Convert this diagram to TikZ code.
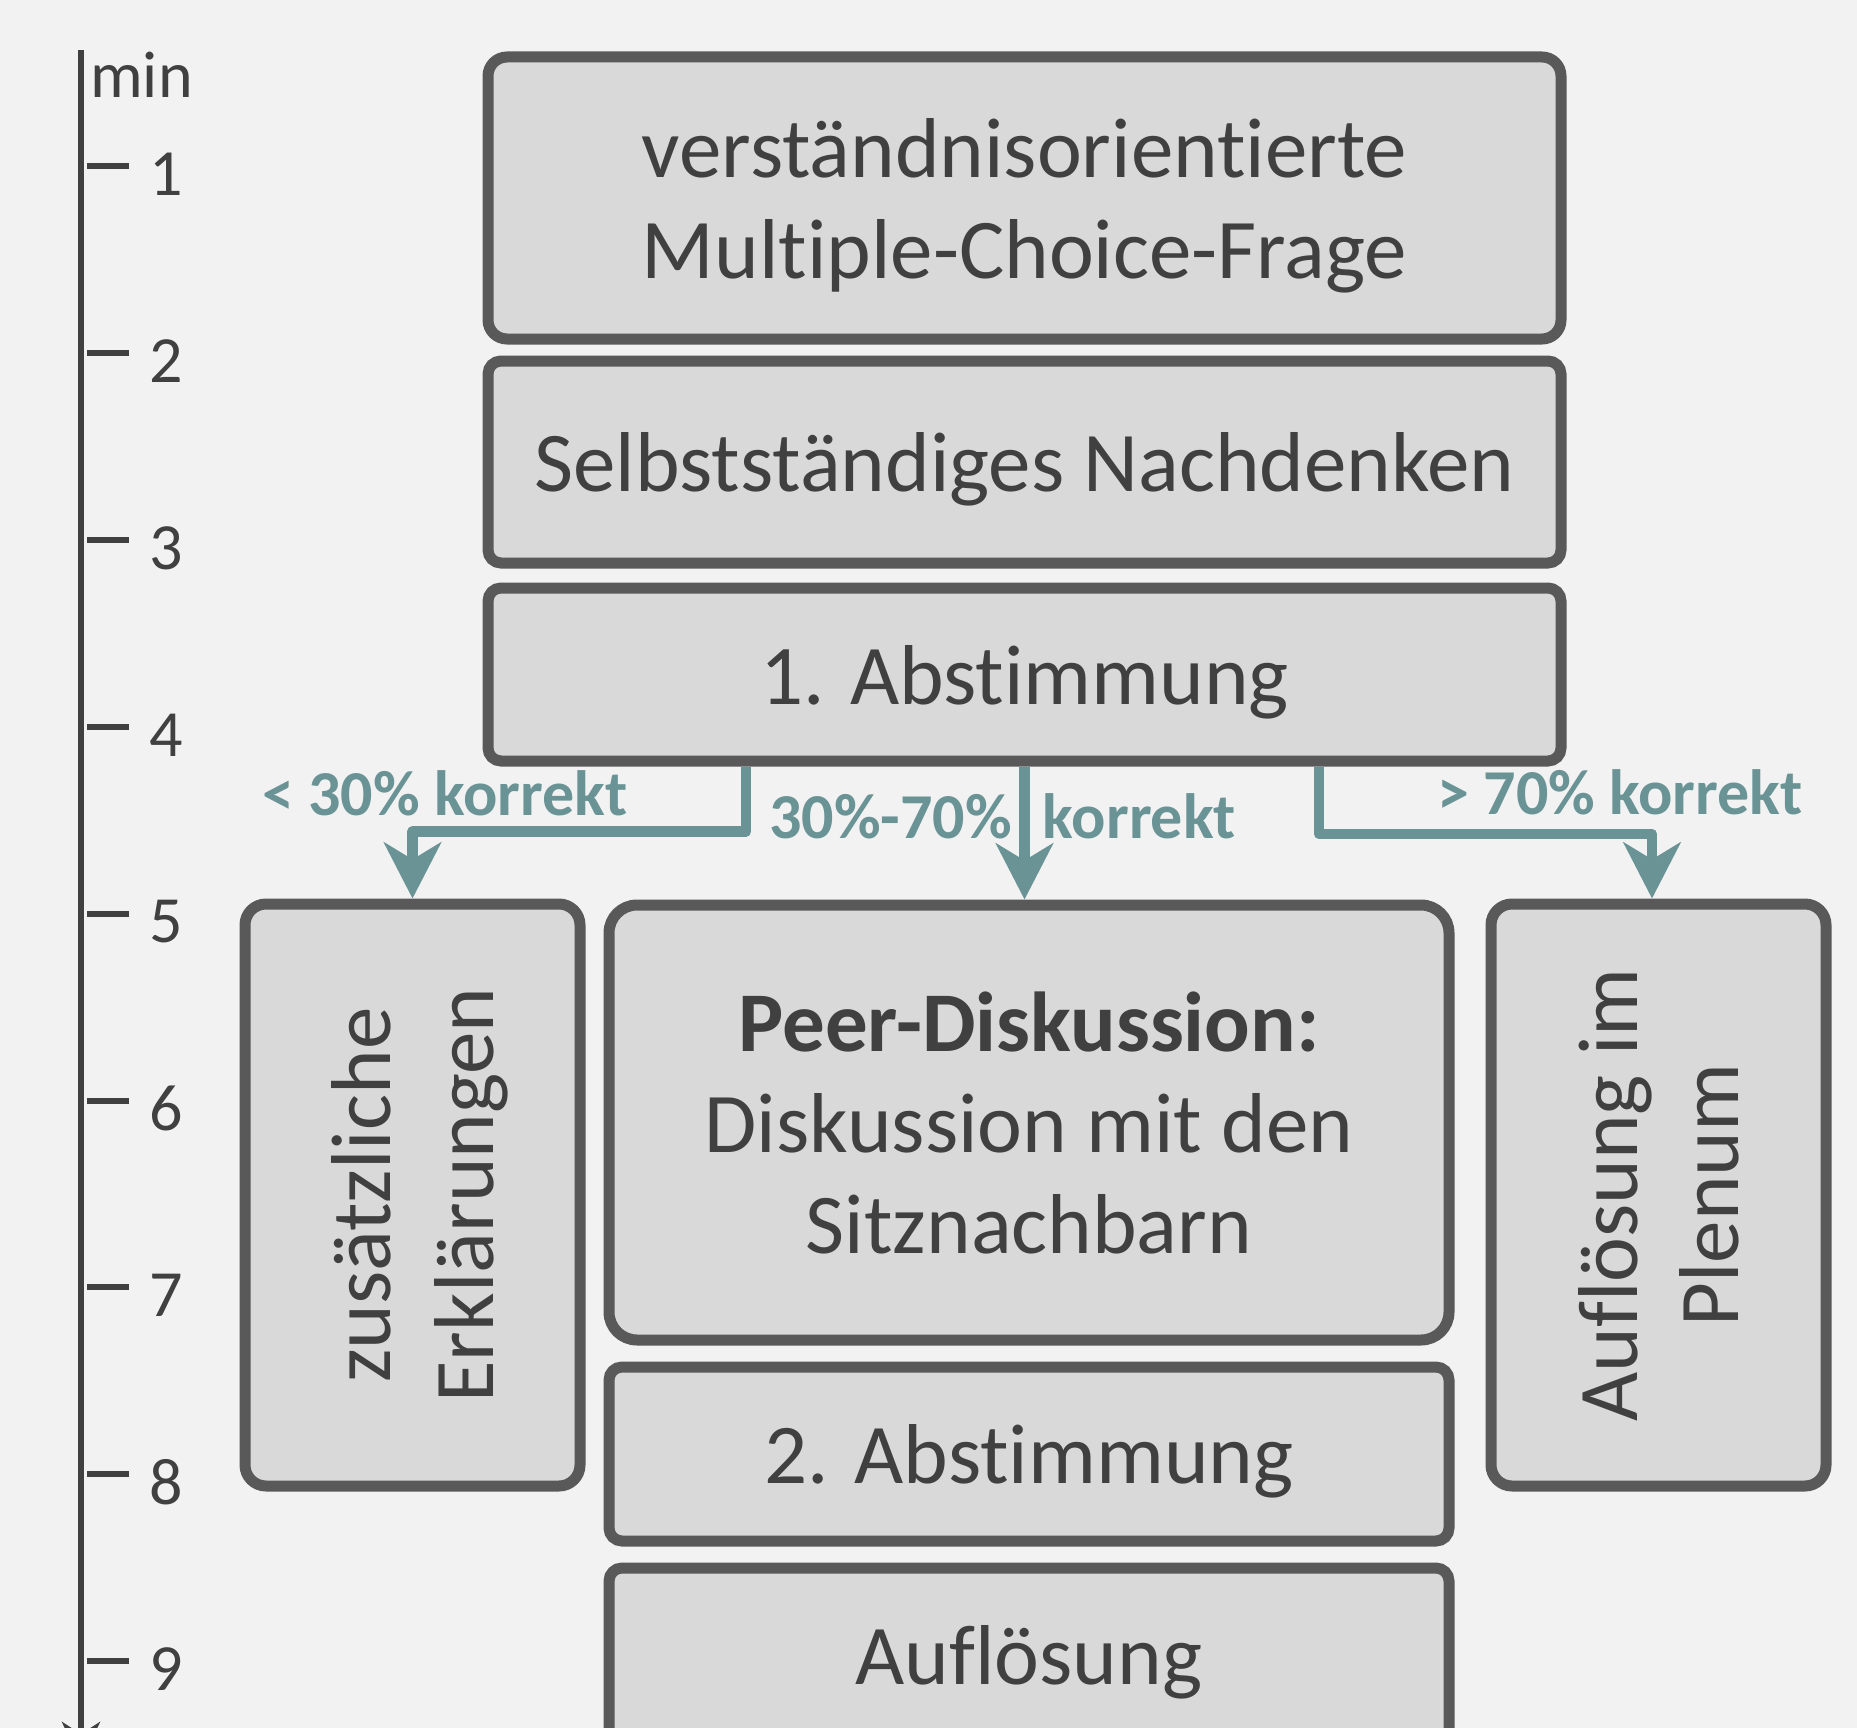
\documentclass[tikz,border=0pt]{standalone}
\usepackage{fontspec}
\setmainfont{Carlito}[Ligatures={NoCommon}]
\usetikzlibrary{arrows.meta}
\definecolor{bgc}{HTML}{F2F2F2}
\definecolor{boxfill}{HTML}{D9D9D9}
\definecolor{boxline}{HTML}{595959}
\definecolor{txtc}{HTML}{404040}
\definecolor{tealc}{HTML}{6A9396}
\begin{document}
\begin{tikzpicture}[x=1pt,y=-1pt,
  box/.style={draw=boxline, fill=boxfill, line width=11pt, text=txtc, align=center,
    inner sep=0pt, text depth=0pt, font=\fontsize{85}{101}\selectfont},
  conn/.style={draw=tealc, line width=10.5pt, line join=round,
    -{Stealth[length=56pt,width=57pt,inset=17pt]}},
  lab/.style={text=tealc, font=\fontsize{64}{76}\selectfont\bfseries, inner sep=0pt, anchor=base west},
  axisline/.style={draw=txtc, line width=6.5pt, -{Stealth[length=40pt,width=38pt,inset=12pt]}},
  tickline/.style={draw=txtc, line width=6pt},
  num/.style={text=txtc, font=\fontsize{66}{79}\selectfont, inner sep=0pt}
]
\useasboundingbox (0,0) rectangle (1857,1728);
\fill[bgc] (0,0) rectangle (1857,1728);
\clip (0,0) rectangle (1857,1728);

% time axis
\coordinate (atop) at (81,50);
\coordinate (abot) at (81,1762);
\draw[axisline] (atop) -- (abot);
\node[num, anchor=base west] (min) at (90,98) {min};
\foreach \n in {1,...,9} {
  \pgfmathsetmacro{\ty}{166.5+(\n-1)*186.8}
  \draw[tickline] (87,\ty) -- (129,\ty);
  \node[num] (t\n) at (166,\ty+8) {\n};
}

% boxes
\node[box, rounded corners=19pt, minimum width=1073pt, minimum height=282pt] (b1) at (1024.5,198)
  {verständnisorientierte\\Multiple-Choice-Frage};
\node[box, rounded corners=13pt, minimum width=1073pt, minimum height=202pt] (b2) at (1024.5,462)
  {Selbstständiges Nachdenken};
\node[box, rounded corners=13pt, minimum width=1073pt, minimum height=173pt] (b3) at (1024.5,674.5)
  {1. Abstimmung};
\node[box, rotate=90, rounded corners=21pt, minimum width=582pt, minimum height=335pt,
  font=\fontsize{85}{103}\selectfont] (lb) at (412.5,1195)
  {zusätzliche\\Erklärungen};
\node[box, rounded corners=28pt, minimum width=840pt, minimum height=435pt] (peer) at (1029,1122.5)
  {\textbf{Peer-Diskussion:}\\Diskussion mit den\\Sitznachbarn};
\node[box, rounded corners=13pt, minimum width=840pt, minimum height=174pt] (ab2) at (1029,1454)
  {2. Abstimmung};
\node[box, rounded corners=13pt, minimum width=840pt, minimum height=174pt] (auf) at (1029,1655)
  {Auflösung};
\node[box, rotate=90, rounded corners=21pt, minimum width=582pt, minimum height=335pt] (rb) at (1658.5,1195)
  {Auflösung im\\Plenum};

% connectors
\coordinate (lk) at (746,831.5);
\coordinate (rk) at (1319,834);
\coordinate (rx) at (1652,834);
\draw[conn] (b3.south -| lk) |- (lb.east |- lk) -- (lb.east);
\draw[conn] (b3.south) -- (b3.south |- peer.north);
\draw[conn] (b3.south -| rk) -- (rk) -- (rx) -- (rx |- rb.east);

% labels
\node[lab] (l1) at (262,815) {< 30\% korrekt};
\node[lab] (l2) at (769,838) {30\%-70\%\hspace{31pt}korrekt};
\node[lab] (l3) at (1437,814) {> 70\% korrekt};
\end{tikzpicture}
\end{document}
